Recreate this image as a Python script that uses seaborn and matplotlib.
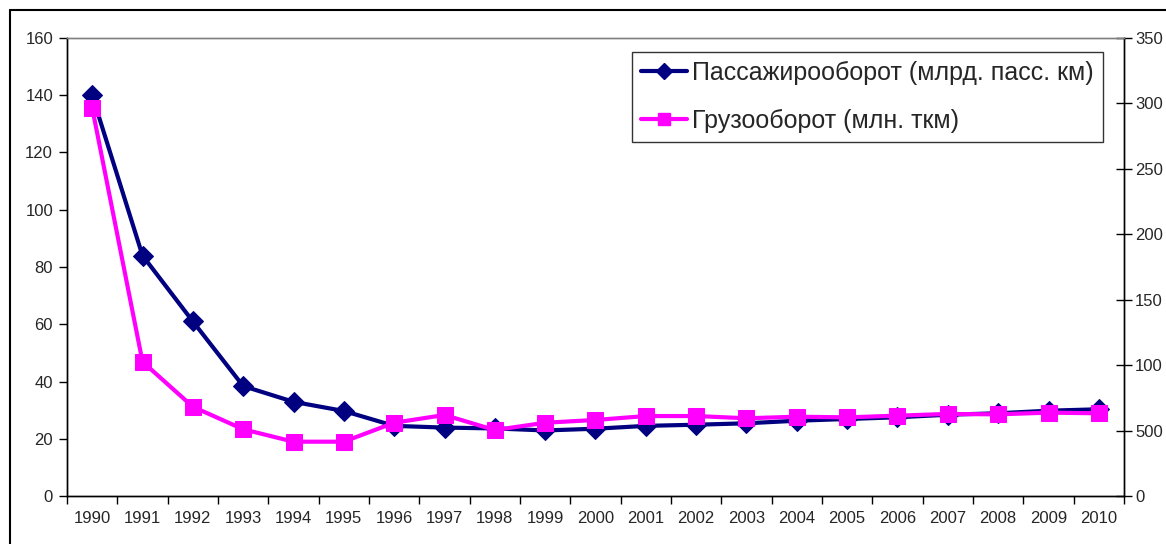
import matplotlib
matplotlib.use("Agg")
import matplotlib.pyplot as plt
from matplotlib.lines import Line2D
from matplotlib.ticker import FixedLocator
import seaborn as sns
import pandas as pd

years = [str(y) for y in range(1990, 2011)]
passenger = [140, 84, 61, 38.4, 32.9, 29.7, 24.5, 23.9, 23.6, 22.9, 23.5,
             24.5, 24.9, 25.4, 26.3, 26.9, 27.5, 28.4, 28.9, 29.8, 30.3]
freight = [2967, 1026, 682, 510, 415, 415, 560, 619, 504, 560, 581,
           611, 611, 594, 606, 601, 614, 627, 624, 637, 632]
left_ticks = [0, 20, 40, 60, 80, 100, 120, 140, 160]
right_ticks = [0, 500, 1000, 1500, 2000, 2500, 3000, 3500]
right_labels = ["0", "500", "100", "150", "200", "250", "300", "350"]
label_passenger = "Пассажирооборот (млрд. пасс. км)"
label_freight = "Грузооборот (млн. ткм)"

df = pd.DataFrame({"pos": range(len(years)), "year": years,
                   "passenger": passenger, "freight": freight})

sns.set_style("white")
plt.rcParams["font.family"] = ["Liberation Sans", "DejaVu Sans"]

W, H = 1166, 544
fig = plt.figure(figsize=(W / 100, H / 100), dpi=100)
ax = fig.add_axes([67 / W, 1 - 496 / H, (1124 - 67) / W, (496 - 38) / H])
ax2 = ax.twinx()

navy = "#000080"
magenta = "#FF00FF"

sns.lineplot(data=df, x="pos", y="passenger", ax=ax, color=navy, lw=3,
             marker="D", markersize=10, markeredgecolor=navy, legend=False)
sns.lineplot(data=df, x="pos", y="freight", ax=ax2, color=magenta, lw=3,
             marker="s", markersize=12, markeredgecolor=magenta, legend=False)

ax.set_xlim(-0.5, len(years) - 0.5)
ax.set_ylim(0, 160)
ax2.set_ylim(0, 3500)

# category labels centred, ticks on category boundaries
ax.set_xticks(range(len(years)))
ax.set_xticklabels(years)
ax.xaxis.set_minor_locator(FixedLocator([i - 0.5 for i in range(len(years) + 1)]))
ax.tick_params(axis="x", which="major", length=0, pad=11, labelsize=12)
ax.tick_params(axis="x", which="minor", length=6, width=1, color="black",
               direction="out", bottom=True)

ax.set_yticks(left_ticks)
ax.tick_params(axis="y", length=6, width=1, color="black", direction="out",
               left=True, labelsize=12, pad=4)

ax2.set_yticks(right_ticks)
ax2.set_yticklabels(right_labels)
ax2.tick_params(axis="y", length=12, width=1, color="black", direction="inout",
                right=True, labelsize=12, pad=2)

ax.set_xlabel("")
ax.set_ylabel("")
ax2.set_ylabel("")
ax.grid(False)
ax2.grid(False)

for a in (ax, ax2):
    a.spines["left"].set_color("black")
    a.spines["bottom"].set_color("black")
    a.spines["right"].set_color("black")
    a.spines["top"].set_color("#808080")
    for s in a.spines.values():
        s.set_linewidth(1)

# outer chart frame
fig.add_artist(Line2D([10 / W, 10 / W], [0, 1 - 10 / H], color="black",
                      lw=1.5, transform=fig.transFigure))
fig.add_artist(Line2D([10 / W, 1], [1 - 10 / H, 1 - 10 / H], color="black",
                      lw=1.5, transform=fig.transFigure))

handles = [
    Line2D([], [], color=navy, lw=3, marker="D", markersize=8),
    Line2D([], [], color=magenta, lw=3, marker="s", markersize=9),
]
leg = fig.legend(handles, [label_passenger, label_freight],
                 loc="upper right", bbox_to_anchor=(1103 / W, 1 - 52 / H),
                 borderaxespad=0, fontsize=18, frameon=True, fancybox=False,
                 edgecolor="black", handlelength=1.85, handletextpad=0.2,
                 labelspacing=0.95, borderpad=0.36)
leg.get_frame().set_linewidth(1)

fig.savefig("out.png", dpi=100, facecolor="white")
